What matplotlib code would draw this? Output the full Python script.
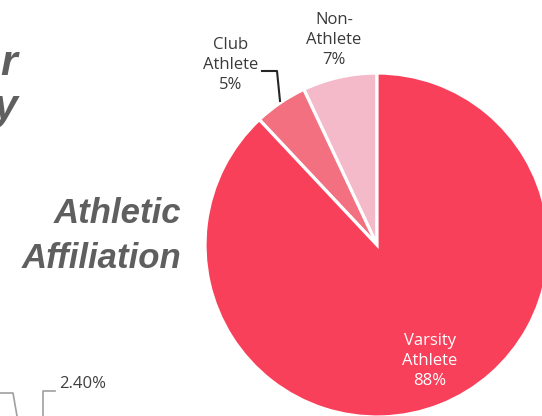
import matplotlib
matplotlib.use("Agg")
from matplotlib import pyplot as plt

# pie data
categories = ['Non-\nAthlete', 'Club\nAthlete', 'Varsity\nAthlete']
shares = [7, 5, 88]
colors = ['#F5BACA', '#F2707F', '#F9405A']

W, H = 542, 416
fig = plt.figure(figsize=(W / 100, H / 100), dpi=100)

# pie center (377, 245) px, radius 172 px
cx, cy, r = 377, 245, 172
ax = fig.add_axes([(cx - r) / W, (H - cy - r) / H, 2 * r / W, 2 * r / H])
ax.pie(shares, colors=colors, startangle=90, counterclock=True,
       wedgeprops=dict(edgecolor='white', linewidth=2.3))
ax.set_xlim(-1, 1)
ax.set_ylim(-1, 1)
ax.set_aspect('equal')
ax.axis('off')


def px(x, y):
    return (x - cx) / r, (cy - y) / r


lab_font = dict(family='Open Sans', fontsize=12, ha='center', va='center',
                linespacing=1.3)
ax.text(*px(334, 40), categories[0] + '\n%d%%' % shares[0], color='#3a3a3a', **lab_font)
ax.text(*px(231, 65), categories[1] + '\n%d%%' % shares[1], color='#3a3a3a', **lab_font)
ax.text(*px(430, 361), categories[2] + '\n%d%%' % shares[2], color='white', **lab_font)

# leader line for club label
pts = [px(262, 71), px(277, 71), px(280, 101)]
ax.plot([p[0] for p in pts], [p[1] for p in pts], color='#262626', lw=1.5, clip_on=False)

# side title
title_font = dict(ha='right', va='baseline', family='Liberation Sans', fontweight='bold',
                  style='italic', color='#5f5f5f')
fig.text(181 / W, 1 - 223 / H, 'Athletic', fontsize=25, **title_font)
fig.text(181 / W, 1 - 268 / H, 'Affiliation', fontsize=25, **title_font)

# cut-off text from neighbouring title
fig.text(17 / W, 1 - 75 / H, 'r', fontsize=31, **title_font)
fig.text(18 / W, 1 - 119 / H, 'y', fontsize=31, **title_font)

# fragment of neighbouring chart
fig.text(59 / W, 1 - 384 / H, '2.40%', ha='left', va='center', family='Open Sans',
         fontsize=12, color='#404040')
fig.add_artist(plt.Line2D([55 / W, 43 / W, 43 / W], [1 - 391 / H, 1 - 391 / H, 0],
                          color='#A0A0A0', lw=1.2))
fig.add_artist(plt.Line2D([0, 13 / W, 17 / W], [1 - 393 / H, 1 - 393 / H, 0],
                          color='#A0A0A0', lw=1.2))

fig.savefig('out.png', dpi=100)
